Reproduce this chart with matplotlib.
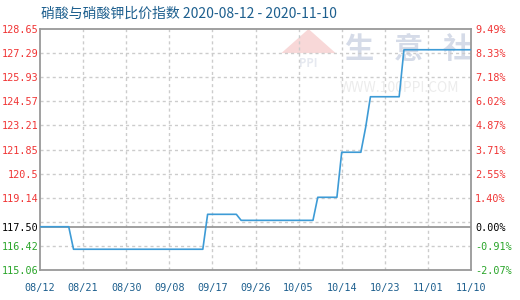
import matplotlib
matplotlib.use("Agg")
import matplotlib.pyplot as plt
import matplotlib.dates as mdates
from matplotlib.patches import Polygon
import pandas as pd

# Price-ratio index: dates where the series changes and its values
dates = ["2020-08-12", "2020-08-18", "2020-08-19", "2020-09-15", "2020-09-16",
         "2020-09-22", "2020-09-23", "2020-10-08", "2020-10-09", "2020-10-13",
         "2020-10-14", "2020-10-18", "2020-10-19", "2020-10-20", "2020-10-26",
         "2020-10-27", "2020-11-10"]
values = [117.50, 117.50, 116.23, 116.23, 118.20,
          118.20, 117.86, 117.86, 119.16, 119.16,
          121.70, 121.70, 123.10, 124.83, 124.83,
          127.48, 127.48]

base_value = 117.50
y_ticks = [115.06, 116.42, 117.78, 119.14, 120.50, 121.85, 123.21, 124.57, 125.93, 127.29, 128.65]
y_labels = ["115.06", "116.42", "117.50", "119.14", "120.5", "121.85", "123.21",
            "124.57", "125.93", "127.29", "128.65"]
pct_labels = ["-2.07%", "-0.91%", "0.00%", "1.40%", "2.55%", "3.71%", "4.87%",
              "6.02%", "7.18%", "8.33%", "9.49%"]
x_tick_dates = ["2020-08-12", "2020-08-21", "2020-08-30", "2020-09-08", "2020-09-17",
                "2020-09-26", "2020-10-05", "2020-10-14", "2020-10-23", "2020-11-01",
                "2020-11-10"]
title = "硝酸与硝酸钾比价指数 2020-08-12 - 2020-11-10"

plt.rcParams["font.family"] = ["Noto Sans CJK SC", "DejaVu Sans"]

RED = "#f03535"
GREEN = "#2aa52a"
BLACK = "#000000"
AXIS = "#999999"
GRID = "#cccccc"
LINE = "#3d9bd6"
TITLE_C = "#1d5f8e"

fig = plt.figure(figsize=(5.2, 3.0), dpi=100)
ax = fig.add_axes([40 / 520, 1 - 270 / 300, 431 / 520, 241 / 300])

x = pd.to_datetime(dates)
xt = pd.to_datetime(x_tick_dates)

# tick positions: the baseline value takes the place of the third grid level
tick_pos = list(y_ticks)
tick_pos[2] = base_value

ax.set_xlim(xt[0], xt[-1])
ax.set_ylim(y_ticks[0], y_ticks[-1])

# dashed grid
for v in y_ticks[1:-1]:
    ax.axhline(v, color=GRID, lw=1, ls=(0, (2.2, 2.2)), zorder=1)
for d in xt[1:-1]:
    ax.axvline(d, color=GRID, lw=1, ls=(0, (2.2, 2.2)), zorder=1)
ax.axhline(base_value, color=AXIS, lw=1.3, zorder=2)

ax.plot(x, values, color=LINE, lw=1.2, zorder=3)

for s in ax.spines.values():
    s.set_color(AXIS)
    s.set_linewidth(1.3)

def level_color(v):
    if abs(v - base_value) < 1e-9:
        return BLACK
    return RED if v > base_value else GREEN

mono = {"family": "DejaVu Sans Mono", "size": 7.3}
ax.set_yticks(tick_pos)
ax.set_yticklabels(y_labels, fontdict=mono)
ax.tick_params(axis="y", length=0, pad=1)
for lbl, v in zip(ax.get_yticklabels(), tick_pos):
    lbl.set_color(level_color(v))

ax.set_xticks(xt)
ax.xaxis.set_major_formatter(mdates.DateFormatter("%m/%d"))
ax.tick_params(axis="x", length=0, pad=9, labelcolor=TITLE_C)
for lbl in ax.get_xticklabels():
    lbl.set_fontfamily("DejaVu Sans Mono")
    lbl.set_fontsize(7.3)

ax2 = ax.twinx()
ax2.set_ylim(ax.get_ylim())
ax2.set_yticks(tick_pos)
ax2.set_yticklabels(pct_labels, fontdict=mono)
ax2.tick_params(axis="y", length=0, pad=3)
for lbl, v in zip(ax2.get_yticklabels(), tick_pos):
    lbl.set_color(level_color(v))
for s in ax2.spines.values():
    s.set_visible(False)

# watermark
ax.text(0.855, 0.915, "生   意   社", transform=ax.transAxes, ha="center", va="center",
        fontsize=21, color="#d5dbe8", fontweight="bold", zorder=0)
ax.text(0.835, 0.755, "WWW.100PPI.COM", transform=ax.transAxes, ha="center", va="center",
        fontsize=10, color="#ececec", zorder=0)
ax.add_patch(Polygon([[0.560, 0.90], [0.623, 1.0], [0.686, 0.90]], closed=True,
                     transform=ax.transAxes, facecolor="#f8d8d8", edgecolor="none", zorder=0))
ax.text(0.623, 0.855, "PPI", transform=ax.transAxes, ha="center", va="center",
        fontsize=8, color="#e6e9f0", fontweight="bold", zorder=0)

fig.text(41 / 520, 1 - 14 / 300, title, ha="left", va="center", fontsize=10, color=TITLE_C)

fig.savefig("out.png", dpi=100)
